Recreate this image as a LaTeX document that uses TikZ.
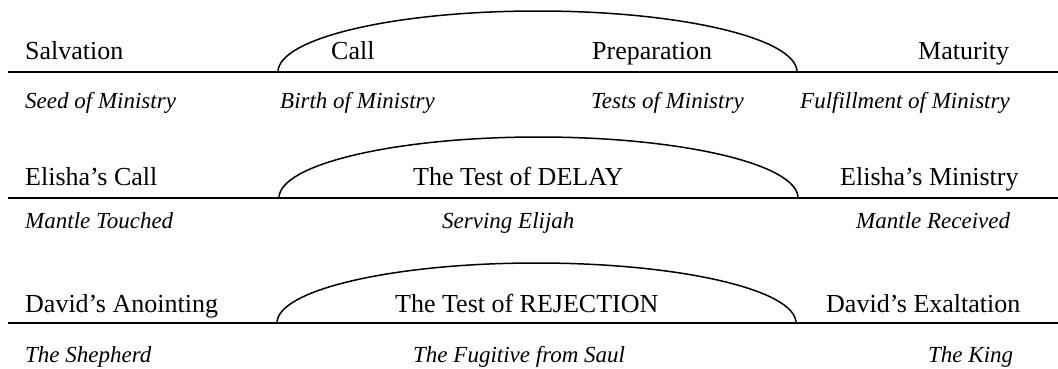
\documentclass[tikz,border=0pt]{standalone}
\usepackage{fontspec}
\setmainfont{Liberation Serif}
\begin{document}
\begin{tikzpicture}[x=1pt,y=1pt,
  rom/.style={font=\fontsize{26}{30}\selectfont, inner sep=0pt, anchor=base west},
  ital/.style={font=\fontsize{23}{27}\selectfont\itshape, inner sep=0pt, anchor=base west},
  baseline/.style={line width=2pt},
  hump/.style={line width=1.5pt}]
\useasboundingbox (0,0) rectangle (1058,368);
% row 1
\coordinate (l1a) at (8,296);
\coordinate (l1b) at (1058,296);
\coordinate (h1) at (278,296);
\draw[baseline] (l1a) -- (l1b);
\draw[hump] (h1) arc[start angle=180, end angle=0, x radius=259.5pt, y radius=61pt];
\node[rom] (salv) at (25,309) {Salvation};
\node[rom] (call) at (331,309) {Call};
\node[rom] (prep) at (592,309) {Preparation};
\node[rom] (matu) at (918,309) {Maturity};
\node[ital] (seed) at (25,260) {Seed of Ministry};
\node[ital] (birth) at (280,260) {Birth of Ministry};
\node[ital] (tests) at (591,260) {Tests of Ministry};
\node[ital] (fulf) at (800,260) {Fulfillment of Ministry};
% row 2
\coordinate (l2a) at (8,170);
\coordinate (l2b) at (1058,170);
\coordinate (h2) at (279,170);
\draw[baseline] (l2a) -- (l2b);
\draw[hump] (h2) arc[start angle=180, end angle=0, x radius=259.5pt, y radius=61pt];
\node[rom] (ecall) at (25,183) {Elisha’s Call};
\node[rom] (delay) at (413,183) {The Test of DELAY};
\node[rom] (emin) at (840,183) {Elisha’s Ministry};
\node[ital] (mtouch) at (25,140) {Mantle Touched};
\node[ital] (serv) at (442,140) {Serving Elijah};
\node[ital] (mrec) at (856,140) {Mantle Received};
% row 3
\coordinate (l3a) at (8,45);
\coordinate (l3b) at (1058,45);
\coordinate (h3) at (277,45);
\draw[baseline] (l3a) -- (l3b);
\draw[hump] (h3) arc[start angle=180, end angle=0, x radius=259.5pt, y radius=60pt];
\node[rom] (danoint) at (25,56) {David’s Anointing};
\node[rom] (rej) at (395,56) {The Test of REJECTION};
\node[rom] (dexalt) at (826,56) {David’s Exaltation};
\node[ital] (shep) at (25,6) {The Shepherd};
\node[ital] (fug) at (413,6) {The Fugitive from Saul};
\node[ital] (king) at (928,6) {The King};
\end{tikzpicture}
\end{document}
